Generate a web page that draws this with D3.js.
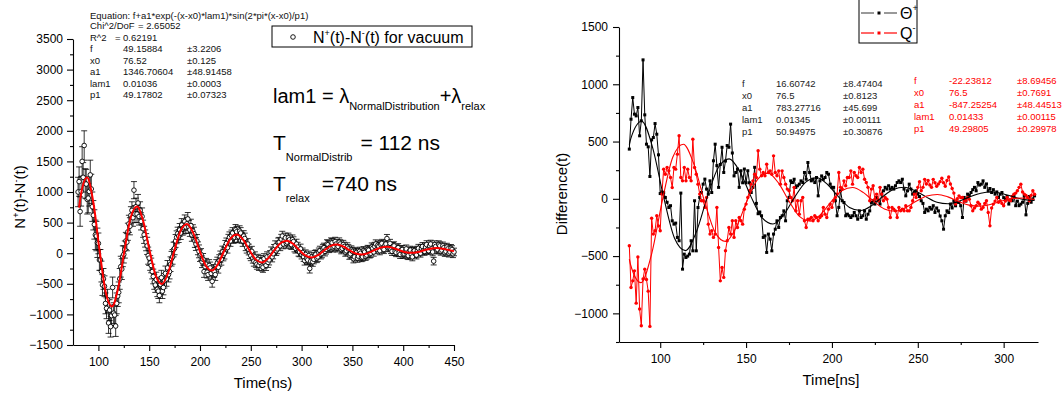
<!DOCTYPE html>
<html>
<head>
<meta charset="utf-8">
<script src="https://cdn.jsdelivr.net/npm/d3@7"></script>
<style>
body { margin: 0; background: #fff; }
svg { font-family: "Liberation Sans", Arial, Helvetica, sans-serif; }
.axis path, .axis line { stroke: #000; stroke-width: 1.1; }
.axis text { font-family: "Liberation Sans", Arial, Helvetica, sans-serif; font-size: 12px; fill: #000; }
</style>
</head>
<body>
<script>
// ---- left panel: N+(t)-N-(t) for vacuum, one point every ns ----
var leftTime = d3.range(80, 451, 1);
var leftCounts = [
	1000, 1170, 680, 1010, 1500, 1240, 1760, 1140, 1130, 880,
	900, 1010, 1280, 1050, 760, 620, 470, 300, 280, 170,
	160, -110, -110, -300, -520, -420, -540, -820, -900, -760,
	-1140, -930, -1200, -1020, -560, -980, -1010, -1190, -820, -700,
	-640, -420, -220, -260, -50, -20, 60, 200, 180, 350,
	480, 440, 620, 700, 580, 1030, 640, 760, 640, 820,
	600, 700, 520, 600, 400, 300, 240, 180, 120, -40,
	-80, -160, -200, -300, -380, -470, -520, -430, -590, -620,
	-690, -510, -400, -620, -560, -450, -330, -420, -240, -350,
	-300, -180, -90, -60, 60, 80, 200, 260, 320, 280,
	380, 330, 460, 400, 420, 520, 430, 480, 560, 430,
	380, 450, 300, 360, 320, 200, 150, 200, 80, 30,
	-40, -20, -140, -100, -300, -220, -180, -310, -350, -200,
	-240, -330, -460, -280, -300, -350, -200, -160, -230, -120,
	-60, -100, 20, -30, 0, 120, 160, 90, 220, 260,
	200, 290, 330, 250, 260, 380, 350, 260, 270, 360,
	330, 250, 200, 280, 240, 130, 90, 150, 60, 0,
	-40, 30, -80, -130, -60, -150, -180, -100, -200, -150,
	-120, -210, -230, -90, -160, -200, -60, -150, -110, -40,
	20, -60, -10, 60, 120, 40, 70, 170, 180, 120,
	230, 280, 150, 210, 250, 160, 180, 250, 220, 150,
	140, 220, 190, 100, 80, 150, 100, 30, 20, 70,
	-20, 10, -60, -120, -20, -90, -110, -40, -250, -130,
	-60, -140, -100, -30, -20, -80, -60, 10, 40, -20,
	0, 70, 90, 30, 60, 150, 140, 80, 100, 180,
	170, 90, 110, 190, 150, 90, 110, 180, 150, 60,
	80, 140, 110, 20, 40, 100, 70, -30, -10, 50,
	30, -90, -60, 20, 10, -80, -50, 30, 0, -70,
	-60, 40, 20, -50, -30, 60, 50, -10, 0, 100,
	80, 20, 110, 150, 60, 130, 110, 40, 140, 160,
	80, 60, 130, 150, 240, 90, 100, 160, 60, 30,
	110, 120, 30, 10, 70, 90, 10, -20, 50, 60,
	-20, -10, 30, 70, -30, -40, 30, 50, -20, -60,
	30, 40, -10, -30, 50, 80, 20, 0, 80, 110,
	40, 30, 100, 140, 60, 40, 120, 150, 70, 20,
	-130, 140, 110, 50, 60, 140, 120, 30, 50, 120,
	90, 10, 30, 100, 70, 0, 20, 80, 60, -10,
	20
];
// half height of the error bars, per 25 ns bin starting at 75 ns
var leftErrBins = [240, 170, 140, 120, 105, 95, 88, 82, 78, 74, 70, 68, 66, 64, 62];

var leftFitTime = [81, 82.67, 88.82, 94.96, 101.11, 107.26, 113.41, 119.55, 125.7, 131.85, 138, 144.14,
	150.29, 156.44, 162.59, 168.73, 174.88, 181.03, 187.18, 193.32, 199.47, 205.62, 211.77, 217.91,
	224.06, 230.21, 236.36, 242.5, 248.65, 254.8, 260.95, 267.09, 273.24, 279.39, 285.54, 291.68,
	297.83, 303.98, 310.13, 316.27, 322.42, 328.57, 334.72, 340.86, 347.01, 353.16, 359.31, 365.45,
	371.6, 377.75, 383.9, 390.04, 396.19, 402.34, 408.49, 414.63, 420.78, 426.93, 433.08, 439.22, 445.37, 450];
var leftFitValue = [745, 943, 1235, 836, 49, -643, -870, -561, 49, 586, 762, 522,
	49, -367, -503, -317, 49, 372, 477, 333, 49, -201, -283, -171,
	49, 243, 306, 220, 49, -101, -150, -83, 49, 166, 204, 152,
	49, -41, -71, -30, 49, 119, 142, 111, 49, -5, -23, 1,
	49, 91, 105, 86, 49, 17, 6, 20, 49, 74, 83, 71, 49, 34];

var leftXTicks = [100, 150, 200, 250, 300, 350, 400, 450];
var leftXMinor = [125, 175, 225, 275, 325, 375, 425];
var leftYTicks = [-1500, -1000, -500, 0, 500, 1000, 1500, 2000, 2500, 3000, 3500];
var leftYMinor = [-1250, -750, -250, 250, 750, 1250, 1750, 2250, 2750, 3250];

var leftEquation = "Equation: f+a1*exp(-(x-x0)*lam1)*sin(2*pi*(x-x0)/p1)";
var leftParams = [
	["f", "49.15884", "\u00b13.2206"],
	["x0", "76.52", "\u00b10.125"],
	["a1", "1346.70604", "\u00b148.91458"],
	["lam1", "0.01036", "\u00b10.0003"],
	["p1", "49.17802", "\u00b10.07323"]
];

// ---- right panel: difference for Theta+ and Q-, one point every ns ----
var rightTime = d3.range(82, 319, 1);
var thetaValues = [
	434, 695, 884, 739, 724, 797, 550, 681, 1213, 733,
	477, 454, 195, 515, 535, 657, 564, 384, 46, 60,
	55, 12, -30, -76, -60, -192, -221, -212, -337, -366,
	50, -614, -483, -512, -500, -483, -366, -454, -17, -454,
	-76, 12, 55, 128, 172, 85, 41, 157, 55, 332,
	477, 290, 100, 300, 450, 230, 330, 465, 450, 652,
	400, 200, 230, 260, 100, 245, 140, 260, 140, 245,
	140, 55, 100, 275, -40, -130, -115, -148, -337, -323,
	-468, -308, -352, -454, -308, -265, -192, -250, -163, -148,
	-105, -192, -17, 12, 157, 142, 171, 100, 114, 128,
	157, 142, 230, 171, 317, 230, 157, 171, 142, 186,
	26, 157, 200, 171, 186, 230, 215, 128, 100, 100,
	-17, -148, -75, 70, -17, -32, -148, -134, -148, -163,
	-148, -119, -148, -178, -105, -163, -148, -105, -178, -134,
	-105, -32, -17, -46, 12, -17, -46, 41, 70, 100,
	85, 114, 85, 100, 85, 114, 142, 157, 142, 171,
	85, 26, 70, 128, 85, 41, 55, 70, 41, 20,
	-17, -40, -119, -90, -105, -75, -90, -60, -119, -80,
	-105, -150, -192, -265, -148, -105, -120, -46, -80, -17,
	-61, -30, -32, -60, -163, 12, -20, 41, 30, 55,
	80, 100, 70, 142, 120, 128, 157, 100, 130, 70,
	90, 55, 80, 41, 60, 12, 40, 55, 10, -3,
	20, -46, -10, -17, 30, -60, -20, -60, -46, -30,
	26, -140, -40, 20, -30, 0, 26
];
var qValues = [
	-410, -774, -716, -629, -911, -507, -962, -1108, -700, -614,
	-704, -806, -1114, -170, -308, -279, -148, -236, -279, 41,
	259, 215, 273, 244, 186, 98, 273, 259, 390, 550,
	186, 157, 273, 157, 259, 186, 157, 521, 273, 215,
	128, 41, -17, -17, -75, 12, -221, -308, -279, -337,
	-308, -75, -425, -716, -599, -686, -454, -366, -250, -308,
	-192, -337, -192, -250, -163, -192, -221, -90, -46, 12,
	70, 128, 157, 215, 186, 419, 259, 201, 230, 201,
	302, 230, 244, 215, 375, 230, 201, 244, 128, 244,
	186, 128, 85, 70, 12, -17, 100, -105, -17, -134,
	-17, 12, -192, -250, -178, -178, -163, -192, -148, -163,
	-192, -163, -148, -75, -134, -163, -90, -46, -75, -17,
	12, 41, 230, 100, 85, 157, 114, 186, 186, 244,
	128, 230, 201, 186, 273, 230, 259, 171, 142, 100,
	-17, 85, 114, -3, 41, -17, 100, 41, -17, 12,
	-3, -75, -163, -75, -90, -105, -163, -75, -105, -90,
	-105, -61, -105, -105, -75, -17, 41, 12, 100, 150,
	70, 100, 170, 130, 160, 120, 100, 170, 140, 110,
	130, 150, 180, 140, 110, 160, 190, 130, 90, 50,
	-46, 0, 26, 10, 12, -20, -17, 10, -3, -60,
	-105, -80, -61, -30, -46, -90, -75, -40, -17, -120,
	-236, -80, -46, -20, 12, -30, -17, -40, -61, -20,
	12, -10, -17, 20, 41, 50, 70, 100, 128, 60,
	41, 30, 12, -17, 30, 70, 40
];

var thetaFitTime = [82, 82.87, 89.24, 95.61, 101.97, 108.34, 114.71, 121.08, 127.45, 133.82, 140.19, 146.56,
	152.92, 159.29, 165.66, 172.03, 178.4, 184.77, 191.14, 197.51, 203.87, 210.24, 216.61, 222.98,
	229.35, 235.72, 242.09, 248.45, 254.82, 261.19, 267.56, 273.93, 280.3, 286.67, 293.04, 299.4,
	305.77, 312.14, 318];
var thetaFitValue = [473, 525, 677, 445, 17, -344, -452, -287, 17, 273, 349, 232,
	17, -165, -220, -137, 17, 146, 184, 125, 17, -75, -102, -61,
	17, 82, 101, 71, 17, -30, -43, -22, 17, 49, 59, 44,
	17, -7, -14];
var qFitTime = [82, 82.66, 88.82, 94.99, 101.15, 107.31, 113.47, 119.64, 125.8, 131.96, 138.12, 144.28,
	150.45, 156.61, 162.77, 168.93, 175.1, 181.26, 187.42, 193.58, 199.75, 205.91, 212.07, 218.23,
	224.39, 230.56, 236.72, 242.88, 249.04, 255.21, 261.37, 267.53, 273.69, 279.85, 286.02, 292.18,
	298.34, 304.5, 310.67, 316.83, 318];
var qFitValue = [-527, -571, -732, -482, -22, 363, 477, 301, -22, -293, -373, -249,
	-22, 168, 224, 137, -22, -156, -195, -134, -22, 72, 99, 56,
	-22, -88, -108, -77, -22, 24, 38, 17, -22, -55, -64, -49,
	-22, 1, 7, -3, -6];

var rightXTicks = [100, 150, 200, 250, 300];
var rightXMinor = [125, 175, 225, 275];
var rightYTicks = [-1000, -500, 0, 500, 1000, 1500];
var rightYMinor = [-1250, -750, -250, 250, 750, 1250];

var thetaParams = [
	["f", "16.60742", "\u00b18.47404"],
	["x0", "76.5", "\u00b10.8123"],
	["a1", "783.27716", "\u00b145.699"],
	["lam1", "0.01345", "\u00b10.00111"],
	["p1", "50.94975", "\u00b10.30876"]
];
var qParams = [
	["f", "-22.23812", "\u00b18.69456"],
	["x0", "76.5", "\u00b10.7691"],
	["a1", "-847.25254", "\u00b148.44513"],
	["lam1", "0.01433", "\u00b10.00115"],
	["p1", "49.29805", "\u00b10.29978"]
];

var svg = d3.select('body')
	.append('svg')
	.attr('width', 1063)
	.attr('height', 394);

// ================= left panel =================
var xL = d3.scaleLinear().domain([75, 450]).range([73, 454]);
var yL = d3.scaleLinear().domain([-1500, 3500]).range([345, 39]);

function axisPair(g, axisFn, scale, major, minor, pad) {
	g.append('g').attr('class', 'axis')
		.call(axisFn(scale).tickValues(major).tickSize(6).tickPadding(pad).tickSizeOuter(0).tickFormat(d3.format('d')));
	g.append('g').attr('class', 'axis')
		.call(axisFn(scale).tickValues(minor).tickSize(3).tickFormat(''))
		.call(function(s) { s.select('.domain').remove(); });
}

axisPair(svg.append('g').attr('transform', 'translate(0,345)'), d3.axisBottom, xL, leftXTicks, leftXMinor, 6);
axisPair(svg.append('g').attr('transform', 'translate(73,0)'), d3.axisLeft, yL, leftYTicks, leftYMinor, 4);

var leftPts = leftTime.map(function(t, i) {
	var bin = Math.min(leftErrBins.length - 1, Math.floor((t - 75) / 25));
	return {t: t, v: leftCounts[i], e: leftErrBins[bin]};
});

var errG = svg.append('g').attr('stroke', '#000').attr('stroke-width', 0.8);
leftPts.forEach(function(d) {
	var x = xL(d.t), y1 = yL(d.v - d.e), y2 = yL(d.v + d.e);
	errG.append('line').attr('x1', x).attr('x2', x).attr('y1', y1).attr('y2', y2);
	errG.append('line').attr('x1', x - 3).attr('x2', x + 3).attr('y1', y1).attr('y2', y1);
	errG.append('line').attr('x1', x - 3).attr('x2', x + 3).attr('y1', y2).attr('y2', y2);
});

svg.append('g')
	.selectAll('circle')
	.data(leftPts)
	.enter().append('circle')
	.attr('cx', function(d) { return xL(d.t); })
	.attr('cy', function(d) { return yL(d.v); })
	.attr('r', 2.3)
	.attr('fill', '#fff')
	.attr('stroke', '#000')
	.attr('stroke-width', 0.9);

var leftFitLine = d3.line()
	.x(function(d, i) { return xL(leftFitTime[i]); })
	.y(function(d) { return yL(d); })
	.curve(d3.curveMonotoneX);

svg.append('path')
	.attr('d', leftFitLine(leftFitValue))
	.attr('fill', 'none')
	.attr('stroke', '#ff0000')
	.attr('stroke-width', 2);

// axis titles
var yTitleL = svg.append('text')
	.attr('transform', 'translate(25,197) rotate(-90)')
	.attr('text-anchor', 'middle')
	.attr('font-size', 15);
yTitleL.append('tspan').text('N');
yTitleL.append('tspan').attr('font-size', 9).attr('dy', -6).text('+');
yTitleL.append('tspan').attr('dy', 6).text('(t)-N');
yTitleL.append('tspan').attr('font-size', 9).attr('dy', -6).text('-');
yTitleL.append('tspan').attr('dy', 6).text('(t)');

svg.append('text')
	.attr('x', 263).attr('y', 388)
	.attr('text-anchor', 'middle')
	.attr('font-size', 15)
	.text('Time(ns)');

// fit report, top left
var rep = svg.append('g').attr('font-size', 9.5).attr('fill', '#111');
rep.append('text').attr('x', 90).attr('y', 18.5).text(leftEquation);
rep.append('text').attr('x', 90).attr('y', 29).text('Chi^2/DoF');
rep.append('text').attr('x', 138).attr('y', 29).text('= 2.65052');
rep.append('text').attr('x', 90).attr('y', 40.5).text('R^2');
rep.append('text').attr('x', 115).attr('y', 40.5).text('=');
rep.append('text').attr('x', 123).attr('y', 40.5).text('0.62191');
leftParams.forEach(function(row, i) {
	var y = 52 + i * 11.6;
	rep.append('text').attr('x', 90).attr('y', y).text(row[0]);
	rep.append('text').attr('x', 123).attr('y', y).text(row[1]);
	rep.append('text').attr('x', 187).attr('y', y).text(row[2]);
});

// legend box
svg.append('rect')
	.attr('x', 272).attr('y', 26).attr('width', 200).attr('height', 21)
	.attr('fill', '#fff').attr('stroke', '#000').attr('stroke-width', 1);
svg.append('circle')
	.attr('cx', 293).attr('cy', 37).attr('r', 2.3)
	.attr('fill', '#fff').attr('stroke', '#000').attr('stroke-width', 0.9);
var legL = svg.append('text').attr('x', 313).attr('y', 43).attr('font-size', 16);
legL.append('tspan').text('N');
legL.append('tspan').attr('font-size', 9).attr('dy', -7).text('+');
legL.append('tspan').attr('dy', 7).text('(t)-N');
legL.append('tspan').attr('font-size', 9).attr('dy', -7).text('-');
legL.append('tspan').attr('dy', 7).text('(t) for vacuum');

// annotation
var ann1 = svg.append('text').attr('x', 273).attr('y', 103).attr('font-size', 20);
ann1.append('tspan').text('lam1 = \u03bb');
ann1.append('tspan').attr('font-size', 11).attr('dy', 7).text('NormalDistribution');
ann1.append('tspan').attr('dy', -7).text('+\u03bb');
ann1.append('tspan').attr('font-size', 11).attr('dy', 7).text('relax');

var ann2 = svg.append('text').attr('x', 273).attr('y', 150).attr('font-size', 21);
ann2.append('tspan').text('T');
ann2.append('tspan').attr('font-size', 11).attr('dy', 11).text('NormalDistrib');
ann2.append('tspan').attr('dy', -11).attr('dx', 8).text('= 112 ns');

var ann3 = svg.append('text').attr('x', 273).attr('y', 191).attr('font-size', 21);
ann3.append('tspan').text('T');
ann3.append('tspan').attr('font-size', 11).attr('dy', 11).text('relax');
ann3.append('tspan').attr('dy', -11).attr('dx', 12).text('=740 ns');

// ================= right panel =================
var xR = d3.scaleLinear().domain([76, 320]).range([619, 1038]);
var yR = d3.scaleLinear().domain([-1250, 1500]).range([342, 27]);

axisPair(svg.append('g').attr('transform', 'translate(0,342)'), d3.axisBottom, xR, rightXTicks, rightXMinor, 6);
axisPair(svg.append('g').attr('transform', 'translate(619,0)'), d3.axisLeft, yR, rightYTicks, rightYMinor, 5);

var dataLine = d3.line()
	.x(function(d, i) { return xR(rightTime[i]); })
	.y(function(d) { return yR(d); });

svg.append('path').attr('d', dataLine(thetaValues))
	.attr('fill', 'none').attr('stroke', '#000').attr('stroke-width', 1);
svg.append('g').selectAll('rect')
	.data(thetaValues)
	.enter().append('rect')
	.attr('x', function(d, i) { return xR(rightTime[i]) - 1.5; })
	.attr('y', function(d) { return yR(d) - 1.5; })
	.attr('width', 3).attr('height', 3)
	.attr('fill', '#000');

svg.append('path').attr('d', dataLine(qValues))
	.attr('fill', 'none').attr('stroke', '#ff0000').attr('stroke-width', 1);
svg.append('g').selectAll('circle')
	.data(qValues)
	.enter().append('circle')
	.attr('cx', function(d, i) { return xR(rightTime[i]); })
	.attr('cy', function(d) { return yR(d); })
	.attr('r', 1.7)
	.attr('fill', '#ff0000');

function fitLine(times) {
	return d3.line()
		.x(function(d, i) { return xR(times[i]); })
		.y(function(d) { return yR(d); })
		.curve(d3.curveMonotoneX);
}
svg.append('path').attr('d', fitLine(thetaFitTime)(thetaFitValue))
	.attr('fill', 'none').attr('stroke', '#000').attr('stroke-width', 1.1);
svg.append('path').attr('d', fitLine(qFitTime)(qFitValue))
	.attr('fill', 'none').attr('stroke', '#ff0000').attr('stroke-width', 1.1);

svg.append('text')
	.attr('transform', 'translate(567,194) rotate(-90)')
	.attr('text-anchor', 'middle')
	.attr('font-size', 15)
	.text('Difference(t)');
svg.append('text')
	.attr('x', 831).attr('y', 385)
	.attr('text-anchor', 'middle')
	.attr('font-size', 15)
	.text('Time[ns]');

// fit tables
var tabT = svg.append('g').attr('font-size', 9.5).attr('fill', '#222');
thetaParams.forEach(function(row, i) {
	var y = 87 + i * 12;
	tabT.append('text').attr('x', 742).attr('y', y).text(row[0]);
	tabT.append('text').attr('x', 776).attr('y', y).text(row[1]);
	tabT.append('text').attr('x', 843).attr('y', y).text(row[2]);
});
var tabQ = svg.append('g').attr('font-size', 9.5).attr('fill', '#ff0000');
qParams.forEach(function(row, i) {
	var y = 84 + i * 12;
	tabQ.append('text').attr('x', 914).attr('y', y).text(row[0]);
	tabQ.append('text').attr('x', 949).attr('y', y).text(row[1]);
	tabQ.append('text').attr('x', 1017).attr('y', y).text(row[2]);
});

// legend, top right
svg.append('rect')
	.attr('x', 859).attr('y', -3).attr('width', 58).attr('height', 46)
	.attr('fill', '#fff').attr('stroke', '#000').attr('stroke-width', 1);
var legRows = [
	{color: '#555', mark: '#000', y: 13, name: '\u0398', sup: '+'},
	{color: '#ff0000', mark: '#ff0000', y: 33, name: 'Q', sup: '-'}
];
legRows.forEach(function(r) {
	svg.append('line').attr('x1', 861).attr('x2', 874).attr('y1', r.y).attr('y2', r.y)
		.attr('stroke', r.color).attr('stroke-width', 1.2);
	svg.append('line').attr('x1', 884).attr('x2', 897).attr('y1', r.y).attr('y2', r.y)
		.attr('stroke', r.color).attr('stroke-width', 1.2);
	svg.append('rect').attr('x', 877.5).attr('y', r.y - 1.5).attr('width', 3).attr('height', 3)
		.attr('fill', r.mark);
	var t = svg.append('text').attr('x', 900).attr('y', r.y + 6).attr('font-size', 16);
	t.append('tspan').text(r.name);
	t.append('tspan').attr('font-size', 9).attr('dy', -8).text(r.sup);
});
</script>
</body>
</html>
